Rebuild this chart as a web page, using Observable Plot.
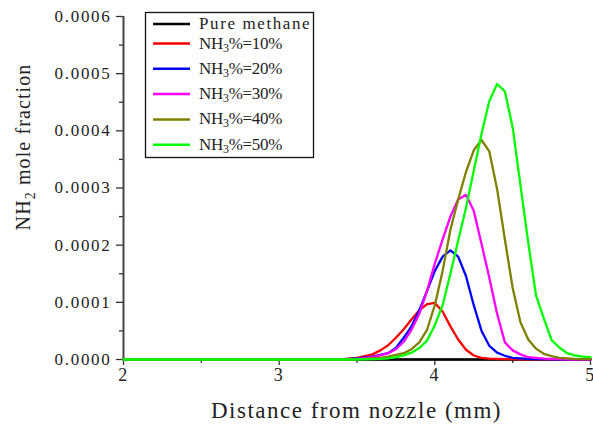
<!DOCTYPE html>
<html><head><meta charset="utf-8">
<script src="https://cdn.jsdelivr.net/npm/d3@7"></script>
<script src="https://cdn.jsdelivr.net/npm/@observablehq/plot@0.6"></script>
<style>
html,body{margin:0;padding:0;background:#fff;}
#chart{width:593px;height:428px;}
</style></head><body><div id="chart"></div>
<script>
// Distance from nozzle (mm)
const xValues = [2, 2.5, 3, 3.4, 3.5, 3.6, 3.65, 3.7, 3.75, 3.8, 3.85, 3.9, 3.95, 4.0, 4.05, 4.1, 4.15, 4.2, 4.25, 4.3, 4.35, 4.4, 4.45, 4.5, 4.55, 4.6, 4.65, 4.7, 4.75, 4.8, 4.85, 4.9, 4.95, 5.0];
// NH2 mole fraction, in units of 1e-4
const pureMethane = [0,0,0,0,0,0,0,0,0,0,0,0,0,0,0,0,0,0,0,0,0,0,0,0,0,0,0,0,0,0,0,0,0,0];
const nh3_10 = [0,0,0,0,0.03,0.09,0.16,0.25,0.38,0.53,0.70,0.86,0.97,0.99,0.84,0.58,0.35,0.17,0.07,0.03,0.015,0.01,0.007,0.005,0.004,0.003,0.002,0.002,0.001,0.001,0.001,0,0,0];
const nh3_20 = [0,0,0,0,0.02,0.05,0.08,0.11,0.2,0.38,0.58,0.86,1.2,1.55,1.8,1.91,1.80,1.46,0.95,0.5,0.24,0.12,0.065,0.03,0.02,0.01,0.008,0.005,0.004,0.003,0.002,0.001,0.001,0];
const nh3_30 = [0,0,0,0,0.01,0.04,0.07,0.11,0.18,0.31,0.52,0.8,1.2,1.68,2.1,2.5,2.8,2.88,2.6,2.02,1.43,0.8,0.3,0.16,0.09,0.04,0.03,0.015,0.01,0.005,0.004,0.003,0.002,0.001];
const nh3_40 = [0,0,0,0,0.005,0.02,0.03,0.05,0.08,0.11,0.18,0.3,0.52,0.95,1.55,2.27,2.8,3.28,3.66,3.84,3.64,2.98,2.1,1.25,0.65,0.35,0.19,0.1,0.06,0.03,0.02,0.01,0.008,0.005];
const nh3_50 = [0,0,0,0,0,0.005,0.01,0.02,0.04,0.07,0.12,0.2,0.33,0.6,0.95,1.5,2.08,2.65,3.3,3.95,4.52,4.82,4.69,4.06,3.05,2.05,1.12,0.72,0.34,0.21,0.11,0.07,0.05,0.04];
const seriesNames = ["Pure methane", "NH3%=10%", "NH3%=20%", "NH3%=30%", "NH3%=40%", "NH3%=50%"];
const seriesValues = [pureMethane, nh3_10, nh3_20, nh3_30, nh3_40, nh3_50];
const xTicks = [2, 3, 4, 5];
const xMinorTicks = [2.5, 3.5, 4.5];
const yTicks = [0, 1, 2, 3, 4, 5, 6];
const yMinorTicks = [0.5, 1.5, 2.5, 3.5, 4.5, 5.5];

const palette = ["#000000", "#ff0000", "#0000ff", "#ff00ff", "#808000", "#00ff00"];
const FONT = "'Liberation Serif', 'DejaVu Serif', serif";

const rows = seriesNames.flatMap((name, i) => xValues.map((x, j) => ({series: name, x, y: seriesValues[i][j]})));

const plot = Plot.plot({
  width: 593, height: 428,
  marginLeft: 123, marginRight: 3, marginTop: 16, marginBottom: 69,
  style: {fontFamily: FONT, fontSize: "17px", color: "#222", background: "#fff"},
  x: {domain: [2, 5], axis: null},
  y: {domain: [0, 6], axis: null},
  color: {domain: seriesNames, range: palette},
  marks: [
    Plot.axisY({ticks: yMinorTicks, tickSize: 4, tickFormat: () => "", label: null, stroke: "#333", strokeWidth: 1.3}),
    Plot.axisY({ticks: yTicks, tickSize: 7, tickPadding: 5, label: null, tickFormat: d => (d / 1e4).toFixed(4), stroke: "#333", strokeWidth: 1.3, fontSize: 17}),
    Plot.axisX({ticks: xMinorTicks, tickSize: 4, tickFormat: () => "", label: null, stroke: "#333", strokeWidth: 1.3}),
    Plot.axisX({ticks: xTicks, tickSize: 6, tickPadding: 3, label: null, tickFormat: d => String(d), stroke: "#333", strokeWidth: 1.3, fontSize: 18}),
    Plot.ruleX([2], {stroke: "#444", strokeWidth: 2}),
    Plot.ruleY([0], {stroke: "#444", strokeWidth: 2}),
    Plot.line(rows, {x: "x", y: "y", z: "series", stroke: "series", strokeWidth: 2.3})
  ]
});
document.getElementById("chart").appendChild(plot);

const svg = d3.select(plot);
// letter-spacing on tick labels to mimic the monospaced original
svg.selectAll("g[aria-label='y-axis tick label'] text, g[aria-label='x-axis tick label'] text")
  .style("letter-spacing", "1.7px");

const xs = plot.scale("x");
const xMid = (xs.range[0] + xs.range[1]) / 2;

// x-axis title
svg.append("text")
  .attr("x", xMid).attr("y", 413)
  .attr("text-anchor", "middle").attr("dominant-baseline", "middle")
  .style("font-family", FONT).style("font-size", "23px").style("letter-spacing", "1.5px").attr("fill", "#222")
  .text("Distance from nozzle (mm)");

// y-axis title with subscript
const yt = svg.append("text")
  .attr("transform", "translate(30,147) rotate(-90)")
  .attr("text-anchor", "middle")
  .style("font-family", FONT).style("font-size", "20px").style("letter-spacing", "1.1px").attr("fill", "#222");
yt.append("tspan").text("NH");
yt.append("tspan").attr("dy", 5).style("font-size", "14px").text("2");
yt.append("tspan").attr("dy", -5).text(" mole fraction");

// legend
const lg = svg.append("g");
lg.append("rect").attr("x", 145.5).attr("y", 12.5).attr("width", 168).attr("height", 145)
  .attr("fill", "#fff").attr("stroke", "#111").attr("stroke-width", 1.3);
seriesNames.forEach((name, i) => {
  const cy = i === 0 ? 24 : 43.5 + (i - 1) * 25.3;
  lg.append("line").attr("x1", 153).attr("x2", 190).attr("y1", cy).attr("y2", cy)
    .attr("stroke", palette[i]).attr("stroke-width", 2.5);
  const t = lg.append("text").attr("x", 199).attr("y", cy + 1).attr("dominant-baseline", "middle")
    .attr("text-anchor", "start")
    .style("font-family", FONT).style("font-size", "17px").attr("fill", "#222");
  const m = name.match(/^NH3(.*)$/);
  if (m) {
    t.style("letter-spacing", "-0.3px");
    t.append("tspan").text("NH");
    t.append("tspan").attr("dy", 4).style("font-size", "12px").text("3");
    t.append("tspan").attr("dy", -4).text(m[1]);
  } else {
    t.style("letter-spacing", "1.6px");
    t.text(name);
  }
});
</script></body></html>
